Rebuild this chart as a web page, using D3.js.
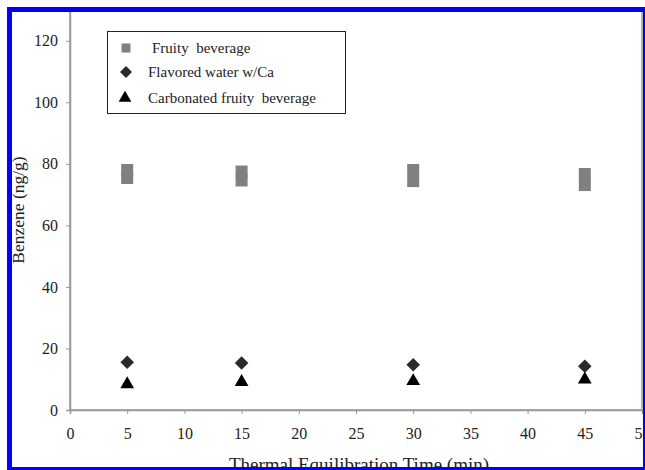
<!DOCTYPE html>
<html><head><meta charset="utf-8">
<script src="https://cdn.jsdelivr.net/npm/d3@7"></script>
<style>body{margin:0;background:#fff}svg{display:block}text{font-family:"Liberation Serif","Times New Roman",serif}</style>
</head><body><svg id="c" width="645" height="470"></svg>
<script>
const times = [5, 15, 30, 45];
const fruityRep1 = [78.0, 77.5, 78.0, 76.7];
const fruityRep2 = [75.4, 74.6, 74.4, 73.1];
const flavoredWater = [15.5, 15.3, 14.7, 14.2];
const carbonated = [8.4, 9.1, 9.4, 9.9];
const xTicks = [0, 5, 10, 15, 20, 25, 30, 35, 40, 45, 50];
const yTicks = [0, 20, 40, 60, 80, 100, 120];
const legendLabels = ["Fruity  beverage", "Flavored water w/Ca", "Carbonated fruity  beverage"];
const xTitle = "Thermal Equilibration Time (min)";
const yTitle = "Benzene (ng/g)";

const svg = d3.select("#c");
// frame
svg.append("rect").attr("x",7).attr("y",7).attr("width",638).attr("height",463).attr("fill","#0000ff");
svg.append("rect").attr("x",12).attr("y",12).attr("width",631).attr("height",455).attr("fill","#fff");

const x = d3.scaleLinear().domain([0,50]).range([70,642]);
const y = d3.scaleLinear().domain([0,130]).range([410,10]);
const axisCol = "#999";

// plot border
svg.append("rect").attr("x",70).attr("y",10).attr("width",572).attr("height",400)
  .attr("fill","none").attr("stroke",axisCol).attr("stroke-width",1.5);

const gy = svg.append("g").attr("transform","translate(70,0)")
  .call(d3.axisLeft(y).tickValues(yTicks).tickSize(4).tickPadding(8).tickFormat(d3.format("d")));
const gx = svg.append("g").attr("transform","translate(0,410)")
  .call(d3.axisBottom(x).tickValues(xTicks).tickSize(4).tickPadding(14).tickFormat(d3.format("d")));
[gx, gy].forEach(g => {
  g.select(".domain").attr("stroke",axisCol).attr("stroke-width",1.5);
  g.selectAll(".tick line").attr("stroke",axisCol);
  g.selectAll("text").attr("font-family","Liberation Serif").attr("font-size",16).attr("fill","#222");
});

// marks
const sq = d3.symbol().type(d3.symbolSquare).size(144);
const dia = d3.symbol().type(d3.symbolSquare).size(92);
const tri = d3.symbol().type(d3.symbolTriangle).size(82);
[fruityRep1, fruityRep2].forEach(arr => {
  svg.append("g").selectAll("path").data(arr).join("path")
    .attr("d", sq).attr("fill","#808080")
    .attr("transform",(d,i)=>`translate(${x(times[i])},${y(d)})`);
});
svg.append("g").selectAll("path").data(flavoredWater).join("path")
  .attr("d", dia).attr("fill","#2a2a2a")
  .attr("transform",(d,i)=>`translate(${x(times[i])},${y(d)}) rotate(45)`);
svg.append("g").selectAll("path").data(carbonated).join("path")
  .attr("d", tri).attr("fill","#000")
  .attr("transform",(d,i)=>`translate(${x(times[i])},${y(d)})`);

// legend
const lg = svg.append("g");
lg.append("rect").attr("x",107.5).attr("y",31.5).attr("width",238).attr("height",82)
  .attr("fill","#fff").attr("stroke","#222").attr("stroke-width",1);
const lsym = [
  {d: d3.symbol().type(d3.symbolSquare).size(81)(), fill:"#808080", rot:0, tx:126, ty:48, lx:152},
  {d: d3.symbol().type(d3.symbolSquare).size(72)(), fill:"#2a2a2a", rot:45, tx:126, ty:72, lx:148},
  {d: d3.symbol().type(d3.symbolTriangle).size(70)(), fill:"#000", rot:0, tx:125, ty:98, lx:148}
];
lsym.forEach((s,i)=>{
  lg.append("path").attr("d",s.d).attr("fill",s.fill)
    .attr("transform",`translate(${s.tx},${s.ty}) rotate(${s.rot})`);
  lg.append("text").attr("x",s.lx).attr("y",s.ty).attr("dy","0.35em")
    .attr("font-size",15).attr("fill","#222").style("white-space","pre").text(legendLabels[i]);
});

// titles
svg.append("text").attr("x",359).attr("y",471).attr("text-anchor","middle")
  .attr("font-size",19).attr("fill","#222").text(xTitle);
svg.append("text").attr("transform","translate(24,210) rotate(-90)").attr("text-anchor","middle")
  .attr("font-size",17.5).attr("fill","#222").text(yTitle);

// redraw frame edges on top
svg.append("rect").attr("x",7).attr("y",7).attr("width",638).attr("height",5).attr("fill","#0000ff");
svg.append("rect").attr("x",7).attr("y",467).attr("width",638).attr("height",3).attr("fill","#0000ff");
svg.append("rect").attr("x",643).attr("y",7).attr("width",2).attr("height",463).attr("fill","#0000ff");
</script></body></html>
